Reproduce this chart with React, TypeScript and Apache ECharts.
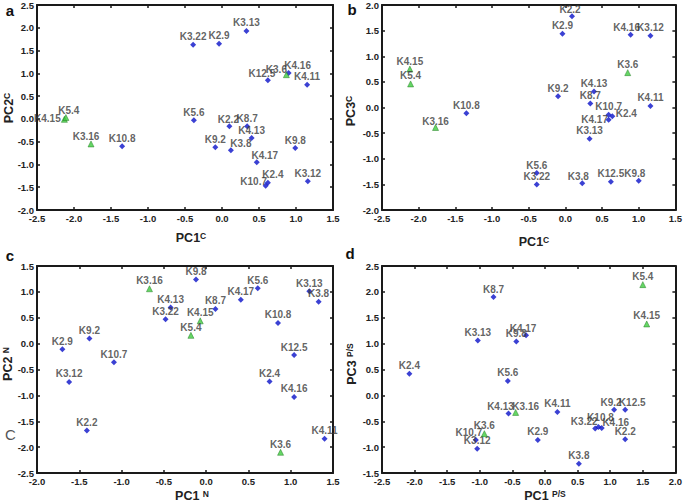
import React, { useEffect, useRef } from "react";
import * as echarts from "echarts";

// ---------- data ----------
const labelsA = ["K3.13","K3.22","K2.9","K12.5","K3.6","K4.16","K4.11","K4.15","K5.4","K5.6","K2.2","K8.7","K4.13","K9.2","K3.8","K9.8","K4.17","K2.4","K10.7","K3.12","K3.16","K10.8"];
const pc1A = [0.33,-0.39,-0.04,0.62,0.87,0.90,1.15,-2.13,-2.11,-0.38,0.10,0.34,0.40,-0.09,0.12,0.99,0.47,0.62,0.59,1.16,-1.77,-1.35];
const pc2A = [1.93,1.63,1.65,0.85,0.97,1.01,0.75,-0.01,0.03,-0.03,-0.16,-0.16,-0.42,-0.62,-0.69,-0.64,-0.95,-1.40,-1.47,-1.37,-0.55,-0.60];

const labelsB = ["K2.2","K2.9","K4.16","K3.12","K4.15","K5.4","K3.6","K9.2","K4.13","K8.7","K4.11","K10.8","K10.7","K2.4","K4.17","K3.16","K3.13","K5.6","K3.22","K3.8","K12.5","K9.8"];
const pc1B = [0.09,-0.04,0.89,1.16,-2.12,-2.11,0.85,-0.10,0.39,0.34,1.16,-1.35,0.59,0.64,0.59,-1.77,0.33,-0.39,-0.39,0.23,0.62,1.00];
const pc3B = [1.78,1.44,1.42,1.40,0.75,0.46,0.68,0.22,0.31,0.08,0.03,-0.11,-0.14,-0.17,-0.24,-0.39,-0.61,-1.28,-1.50,-1.48,-1.45,-1.43];

const labelsC = ["K3.16","K9.8","K5.6","K3.13","K3.8","K4.17","K4.13","K8.7","K3.22","K4.15","K5.4","K10.8","K9.2","K2.9","K10.7","K12.5","K3.12","K2.4","K4.16","K2.2","K4.11","K3.6"];
const pc1C = [-0.67,-0.12,0.61,1.22,1.33,0.41,-0.42,0.11,-0.48,-0.07,-0.18,0.85,-1.38,-1.70,-1.09,1.04,-1.62,0.75,1.04,-1.41,1.40,0.88];
const pc2C = [1.06,1.24,1.07,1.01,0.81,0.85,0.70,0.67,0.47,0.44,0.16,0.40,0.10,-0.11,-0.36,-0.22,-0.74,-0.73,-1.03,-1.68,-1.84,-2.10];

const labelsD = ["K5.4","K4.15","K8.7","K3.13","K9.8","K4.17","K2.4","K5.6","K4.13","K3.16","K4.11","K9.2","K12.5","K10.8","K3.22","K4.16","K2.2","K2.9","K3.6","K10.7","K3.12","K3.8"];
const pc1D = [1.50,1.56,-0.79,-1.03,-0.44,-0.29,-2.08,-0.57,-0.56,-0.45,0.19,1.06,1.23,0.82,0.77,0.87,1.23,-0.11,-0.93,-1.06,-1.04,0.52];
const pc3D = [2.14,1.38,1.90,1.06,1.04,1.16,0.42,0.28,-0.35,-0.33,-0.32,-0.28,-0.28,-0.61,-0.64,-0.63,-0.85,-0.86,-0.74,-0.86,-1.03,-1.32];

const greenSamples = ["K4.15", "K5.4", "K3.16", "K3.6"];

const xTicksA = { min: -2.5, max: 1.5 };
const yTicksA = { min: -2.0, max: 2.5 };
const xTicksB = { min: -2.5, max: 1.5 };
const yTicksB = { min: -2.0, max: 2.0 };
const xTicksC = { min: -2.0, max: 1.5 };
const yTicksC = { min: -2.5, max: 1.5 };
const xTicksD = { min: -2.5, max: 2.0 };
const yTicksD = { min: -1.5, max: 2.5 };
const tickStep = 0.5;

// ---------- label placement (layout only) ----------
const offA: Record<string, number[]> = {
  "K12.5": [-6, -7], "K3.6": [-10, -5], "K4.16": [9, -7], "K4.15": [-17, -1],
  "K5.4": [3, -7], "K3.8": [10, -7], "K4.17": [8, -7], "K2.4": [5, -8],
  "K10.7": [-12, -4], "K3.16": [-5, -7], "K2.2": [-1, -7],
};
const offB: Record<string, number[]> = {
  "K2.2": [-2, -7], "K4.16": [-4, -7], "K2.4": [14, -3], "K4.17": [-14, 0],
  "K3.16": [0, -6], "K3.8": [-4, -7], "K9.8": [-4, -7],
};
const offC: Record<string, number[]> = {};
const offD: Record<string, number[]> = {
  "K4.17": [-3, -7], "K4.13": [-8, -7], "K3.16": [10, -6], "K9.2": [-3, -7],
  "K12.5": [7, -7], "K10.8": [2, -9], "K3.22": [-11, -7], "K4.16": [14, -5],
  "K10.7": [-7, -7],
};

const FONT = "'Liberation Sans', Arial, sans-serif";

function buildSeries(labels: string[], xs: number[], ys: number[], offs: Record<string, number[]>, idx: number) {
  const mk = (green: boolean) =>
    labels
      .map((n, i) => ({ n, i }))
      .filter(({ n }) => greenSamples.includes(n) === green)
      .map(({ n, i }) => ({
        name: n,
        value: [xs[i], ys[i]],
        label: { offset: offs[n] || [0, -8] },
      }));
  const common = {
    type: "scatter",
    xAxisIndex: idx,
    yAxisIndex: idx,
    symbolSize: 6,
    label: {
      show: true,
      position: "inside",
      formatter: "{b}",
      fontSize: 10,
      fontWeight: "bold",
      fontFamily: FONT,
      color: "#3a3a3a",
    },
    emphasis: { disabled: true },
  };
  return [
    { ...common, name: "blue" + idx, symbol: "diamond", itemStyle: { color: "#0a12c8" }, data: mk(false) },
    { ...common, name: "green" + idx, symbol: "triangle", z: 3, itemStyle: { color: "#3fcc3f", borderColor: "#1f7a1f", borderWidth: 0.6 }, data: mk(true) },
  ];
}

const grids = [
  { left: 37, top: 5, width: 296, height: 205 },
  { left: 382, top: 5, width: 296, height: 205 },
  { left: 37, top: 266, width: 296, height: 207 },
  { left: 382, top: 266, width: 296, height: 207 },
];

function axisCommon(range: { min: number; max: number }, gridIndex: number, position: string, showLabel: boolean) {
  return {
    type: "value",
    gridIndex,
    position,
    min: range.min,
    max: range.max,
    interval: tickStep,
    axisLine: { show: true, onZero: false, lineStyle: { color: "#1a1a1a", width: 2 } },
    axisTick: { show: true, inside: true, length: 3, lineStyle: { color: "#1a1a1a", width: 1.5 } },
    splitLine: { show: false },
    axisLabel: {
      show: showLabel,
      margin: 3,
      fontSize: 9.5,
      fontWeight: "bold",
      fontFamily: FONT,
      color: "#222",
      formatter: (v: number) => v.toFixed(1),
    },
  };
}

function titleText(x: number, y: number, main: string, sub: string, rotate: boolean) {
  return {
    type: "text",
    x,
    y,
    rotation: rotate ? Math.PI / 2 : 0,
    style: {
      text: `{m|${main}}{s|${sub}}`,
      align: "center",
      verticalAlign: "middle",
      rich: {
        m: { fontSize: 12.5, fontWeight: "bold", fontFamily: FONT, fill: "#222", lineHeight: 14 },
        s: { fontSize: 8.5, fontWeight: "bold", fontFamily: FONT, fill: "#222", verticalAlign: "top", lineHeight: 10 },
      },
    },
  };
}

function panelLetter(x: number, y: number, t: string) {
  return {
    type: "text",
    x,
    y,
    style: { text: t, fontSize: 15, fontWeight: "bold", fontFamily: FONT, fill: "#111", align: "center", verticalAlign: "middle" },
  };
}

export default function App() {
  const ref = useRef<HTMLDivElement>(null);
  useEffect(() => {
    if (!ref.current) return;
    const chart = echarts.init(ref.current, undefined, { renderer: "svg" });
    const xr = [xTicksA, xTicksB, xTicksC, xTicksD];
    const yr = [yTicksA, yTicksB, yTicksC, yTicksD];
    const xAxes: any[] = [];
    const yAxes: any[] = [];
    for (let i = 0; i < 4; i++) xAxes.push(axisCommon(xr[i], i, "bottom", true));
    for (let i = 0; i < 4; i++) xAxes.push(axisCommon(xr[i], i, "top", false));
    for (let i = 0; i < 4; i++) yAxes.push(axisCommon(yr[i], i, "left", true));
    for (let i = 0; i < 4; i++) yAxes.push(axisCommon(yr[i], i, "right", false));

    const option: any = {
      animation: false,
      backgroundColor: "#ffffff",
      grid: grids,
      xAxis: xAxes,
      yAxis: yAxes,
      series: [
        ...buildSeries(labelsA, pc1A, pc2A, offA, 0),
        ...buildSeries(labelsB, pc1B, pc3B, offB, 1),
        ...buildSeries(labelsC, pc1C, pc2C, offC, 2),
        ...buildSeries(labelsD, pc1D, pc3D, offD, 3),
      ],
      graphic: [
        panelLetter(10, 10, "a"),
        panelLetter(352, 9, "b"),
        panelLetter(10, 255, "c"),
        panelLetter(350, 253, "d"),
        titleText(191, 238, "PC1", "C", false),
        titleText(534, 242, "PC1", "C", false),
        titleText(192, 496, "PC1 ", "N", false),
        titleText(545, 496, "PC1 ", "P/S", false),
        titleText(9, 108, "PC2", "C", true),
        titleText(351, 111, "PC3", "C", true),
        titleText(8, 364, "PC2 ", "N", true),
        titleText(352, 364, "PC3 ", "P/S", true),
        {
          type: "text",
          x: 10.5,
          y: 434,
          style: { text: "C", fontSize: 15, fontFamily: FONT, fill: "#555", align: "center", verticalAlign: "middle" },
        },
      ],
    };
    chart.setOption(option);
    return () => chart.dispose();
  }, []);
  return <div ref={ref} style={{ position: "absolute", left: 0, top: 0, width: 685, height: 502 }} />;
}
